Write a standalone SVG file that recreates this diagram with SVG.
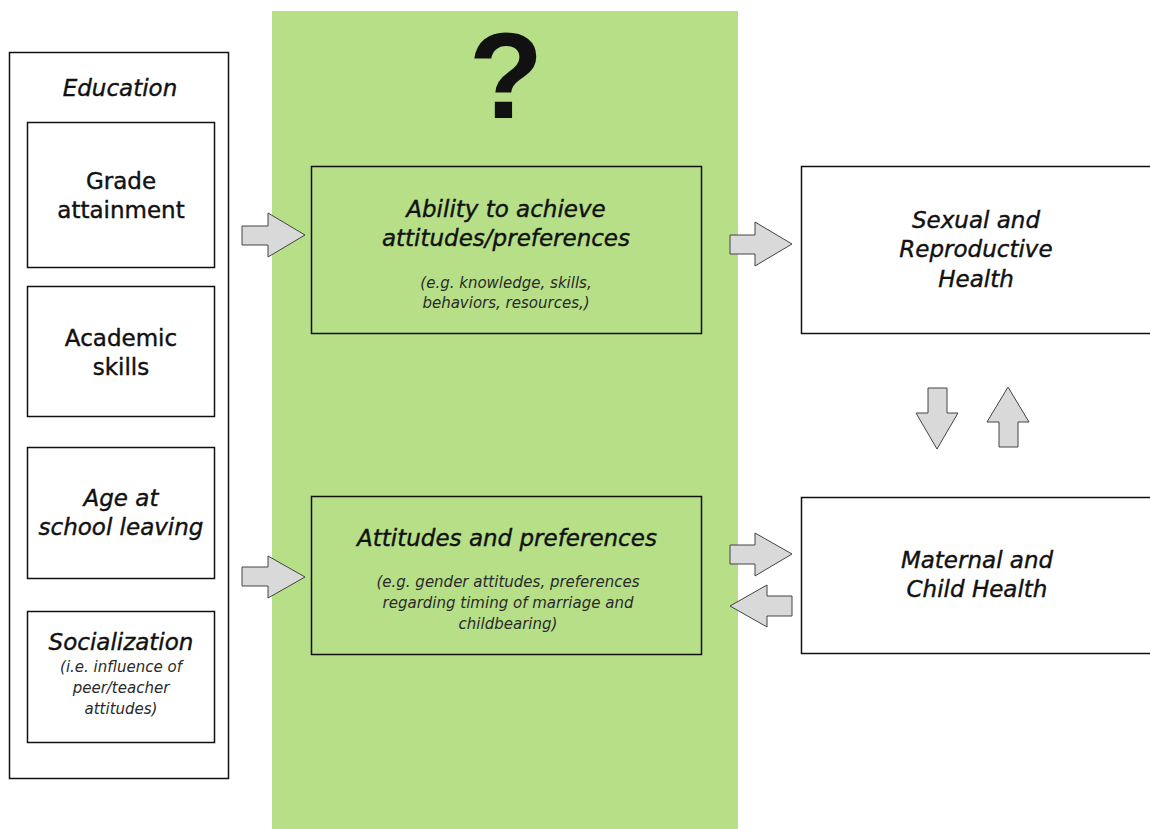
<svg xmlns="http://www.w3.org/2000/svg" width="1150" height="829" viewBox="0 0 1150 829">
<style>
.box{fill:#fff;stroke:#111;stroke-width:1.5}
.gbox{fill:#b6df88;stroke:#111;stroke-width:1.5}
.arr{fill:#d9d9d9;stroke:#444;stroke-width:1}
text{font-family:"DejaVu Sans","Liberation Sans",sans-serif;fill:#111;text-anchor:middle}
.big{font-size:23px;stroke:#111;stroke-width:0.4}
.it{font-style:italic}
.sm{font-size:15px;font-style:italic;fill:#2a2a2a}
.q{font-family:"Liberation Sans",Arial,sans-serif;font-weight:bold;font-size:122px}
</style>
<rect x="0" y="0" width="1150" height="829" fill="#fff"/>
<rect id="band" x="272" y="11" width="466" height="818" fill="#b6df88"/>
<text class="q" x="506" y="118">?</text>
<g id="education">
<rect class="box" x="9.5" y="52.5" width="219" height="726"/>
<text class="big it" x="120" y="96">Education</text>
</g>
<g id="grade">
<rect class="box" x="27.5" y="122.5" width="187" height="145"/>
<text class="big" x="121" y="189">Grade</text>
<text class="big" x="121" y="218">attainment</text>
</g>
<g id="academic">
<rect class="box" x="27.5" y="286.5" width="187" height="130"/>
<text class="big" x="121" y="346">Academic</text>
<text class="big" x="121" y="375">skills</text>
</g>
<g id="age">
<rect class="box" x="27.5" y="447.5" width="187" height="131"/>
<text class="big it" x="121" y="506">Age at</text>
<text class="big it" x="121" y="535">school leaving</text>
</g>
<g id="socialization">
<rect class="box" x="27.5" y="611.5" width="187" height="131"/>
<text class="big it" x="121" y="650">Socialization</text>
<text class="sm" x="121" y="672">(i.e. influence of</text>
<text class="sm" x="121" y="693">peer/teacher</text>
<text class="sm" x="121" y="714">attitudes)</text>
</g>
<g id="ability">
<rect class="gbox" x="311.5" y="166.5" width="390" height="167"/>
<text class="big it" x="506" y="217">Ability to achieve</text>
<text class="big it" x="506" y="246">attitudes/preferences</text>
<text class="sm" x="506" y="288">(e.g. knowledge, skills,</text>
<text class="sm" x="506" y="308">behaviors, resources,)</text>
</g>
<g id="attitudes">
<rect class="gbox" x="311.5" y="496.5" width="390" height="158"/>
<text class="big it" x="507" y="546">Attitudes and preferences</text>
<text class="sm" x="508" y="587">(e.g. gender attitudes, preferences</text>
<text class="sm" x="508" y="608">regarding timing of marriage and</text>
<text class="sm" x="508" y="629">childbearing)</text>
</g>
<g id="srh">
<rect class="box" x="801.5" y="166.5" width="360" height="167"/>
<text class="big it" x="976" y="228">Sexual and</text>
<text class="big it" x="976" y="257">Reproductive</text>
<text class="big it" x="976" y="287">Health</text>
</g>
<g id="mch">
<rect class="box" x="801.5" y="497.5" width="360" height="156"/>
<text class="big it" x="977" y="568">Maternal and</text>
<text class="big it" x="977" y="597">Child Health</text>
</g>
<g id="connectors">
<polygon class="arr" points="242,226 268,226 268,213 305,235 268,257 268,245 242,245"/>
<polygon class="arr" points="242,567 268,567 268,556 305,577 268,598 268,586 242,586"/>
<polygon class="arr" points="730,235 755,235 755,222 792,244 755,266 755,254 730,254"/>
<polygon class="arr" points="730,545 755,545 755,533 792,554 755,576 755,564 730,564"/>
<polygon class="arr" points="792,596 767,596 767,585 730,606 767,627 767,616 792,616"/>
<polygon class="arr" points="928,388 947,388 947,413 958,413 937,449 916,413 928,413"/>
<polygon class="arr" points="1008,387 1029,422 1018,422 1018,447 999,447 999,422 987,422"/>
</g>
</svg>
